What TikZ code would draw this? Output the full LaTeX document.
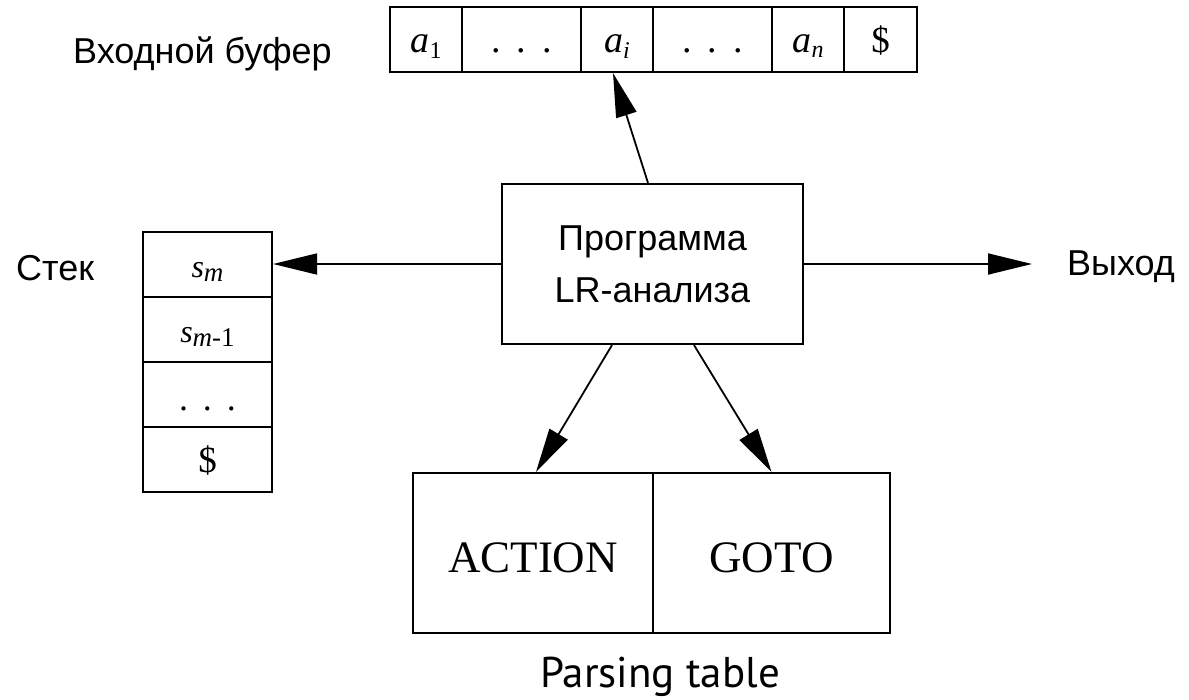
\documentclass[tikz,border=0pt]{standalone}
\usepackage{fontspec}
\setmainfont{Liberation Sans}
\newfontfamily\tms{Liberation Serif}
\newfontfamily\ptsans{PT Sans}
\usetikzlibrary{arrows.meta}
\newcommand\mysub[2]{\raisebox{-#1}{\fontsize{24}{24}\selectfont #2}}
\begin{document}
\begin{tikzpicture}[x=1pt,y=-1pt,
  cell/.style={draw,line width=2.2pt,inner sep=0pt,minimum height=65pt,text height=28pt,text depth=3pt},
  bufcell/.style={cell,font=\tms\fontsize{38}{38}\selectfont},
  stkcell/.style={cell,minimum width=129pt,font=\tms\fontsize{32}{32}\selectfont},
  tblcell/.style={draw,line width=2.2pt,inner sep=0pt,minimum height=160pt,text height=40pt,text depth=2pt,font=\tms\fontsize{45}{45}\selectfont},
  lbl/.style={inner sep=0pt,font=\fontsize{36}{36}\selectfont},
  progbox/.style={draw,line width=2.2pt,inner sep=0pt,minimum width=301pt,minimum height=160pt,align=center,font=\fontsize{36}{52}\selectfont},
  arr/.style={line width=1.8pt,-{Triangle[length=44pt,width=21pt]}}
]
\useasboundingbox (0,0) rectangle (1189,699);

% input buffer
\node[lbl,anchor=base west] (inlbl) at (73,63) {Входной буфер};
\node[bufcell,minimum width=72pt]  (b1) at (426,39.5)   {\itshape a\mysub{6pt}{\upshape 1}};
\node[bufcell,minimum width=119pt] (b2) at (521.5,39.5) {.\,\ .\,\ .};
\node[bufcell,minimum width=72pt]  (b3) at (617,39.5)   {\itshape a\mysub{6pt}{i}};
\node[bufcell,minimum width=119pt] (b4) at (712.5,39.5) {.\,\ .\,\ .};
\node[bufcell,minimum width=72pt]  (b5) at (808,39.5)   {\itshape a\mysub{5pt}{n}};
\node[bufcell,font=\tms\fontsize{37}{37}\selectfont,minimum width=73pt]  (b6) at (880.5,39.5) {\$};

% stack
\node[lbl,anchor=base west] (stklbl) at (16,280) {Стек};
\node[stkcell] (s1) at (207.5,264.5) {\itshape s\raisebox{-4pt}{\fontsize{27}{27}\selectfont m}};
\node[stkcell] (s2) at (207.5,329.5) {\itshape s\raisebox{-4pt}{\fontsize{27}{27}\selectfont m\upshape -1}};
\node[stkcell,font=\tms\fontsize{36}{36}\selectfont] (s3) at (207.5,394.5) {\raisebox{-3pt}{.\,\ .\,\ .}};
\node[stkcell,font=\tms\fontsize{37}{37}\selectfont] (s4) at (207.5,459.5) {\$};

% program
\node[progbox] (prog) at (652.5,264) {Программа\\LR-анализа};

% output
\coordinate (out) at (1032,264);
\node[lbl,anchor=base west] (outlbl) at (1067,275) {Выход};

% parsing table
\node[tblcell,minimum width=240pt] (act) at (533,553) {ACTION};
\node[tblcell,minimum width=237pt] (goto) at (771.5,553) {GOTO};
\node[inner sep=0pt,anchor=base,font=\ptsans\fontsize{43}{43}\selectfont] (ptlbl) at (660,687) {Parsing table};

% connectors
\draw[arr] ([xshift=-4.5pt]prog.north) -- ([xshift=-4pt]b3.south);
\draw[arr] (prog.west) -- (prog.west -| s1.east);
\draw[arr] (prog.east) -- (out);
\draw[arr] ([xshift=-40.5pt]prog.south) -- ([xshift=3pt]act.north);
\draw[arr] ([xshift=41.5pt]prog.south) -- (goto.north);
\end{tikzpicture}
\end{document}
